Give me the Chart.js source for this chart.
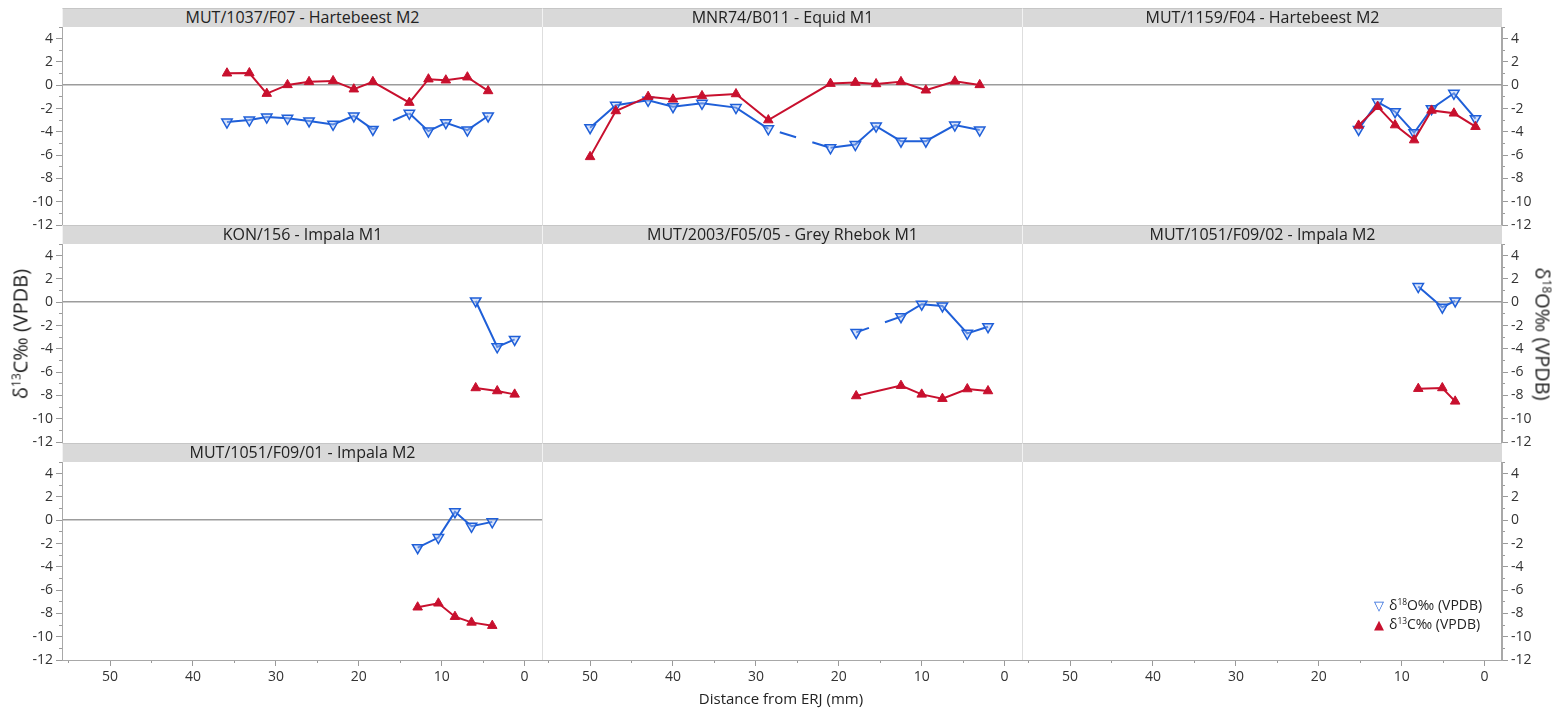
<!DOCTYPE html>
<html>
<head>
<meta charset="utf-8">
<script src="https://cdn.jsdelivr.net/npm/chart.js@4.4.1/dist/chart.umd.min.js"></script>
<style>
  html, body { margin: 0; padding: 0; background: #fff; }
  body { width: 1559px; height: 712px; position: relative; overflow: hidden;
         font-family: 'Open Sans', 'Noto Sans', sans-serif; color: #222; }
  canvas { position: absolute; left: 0; top: 0; }
  .hdr { position: absolute; height: 19px; background: #d9d9d9; border-top: 1px solid #c6c6c6;
         border-left: 1px solid #f2f2f2; box-sizing: border-box; text-align: center;
         font-size: 16px; line-height: 17px; color: #222; white-space: nowrap; }
  .sep { position: absolute; width: 1px; background: #dedede; }
  .axline { position: absolute; width: 1px; background: #a8a8a8; }
  .ytitle { position: absolute; font-size: 20px; white-space: nowrap; color: #222; }
  .ytitle sup, .leg sup { font-size: 0.6em; vertical-align: 0.6em; line-height: 0; }
  .xtitle { position: absolute; font-size: 15px; color: #222; white-space: nowrap; }
  .leg { position: absolute; font-size: 14px; line-height: 18px; color: #222; white-space: nowrap; }
  .mk { display: inline-block; width: 15px; font-family: 'DejaVu Sans', sans-serif; font-size: 13px; }
</style>
</head>
<body>
<script>
// panel titles (row by row)
const titles = [
  "MUT/1037/F07 - Hartebeest M2", "MNR74/B011 - Equid M1", "MUT/1159/F04 - Hartebeest M2",
  "KON/156 - Impala M1", "MUT/2003/F05/05 - Grey Rhebok M1", "MUT/1051/F09/02 - Impala M2",
  "MUT/1051/F09/01 - Impala M2", "", ""
];

// distance from ERJ (mm) and isotope values per tooth; null = missing value
const dist1 = [35.9, 33.2, 31.1, 28.6, 26.0, 23.1, 20.6, 18.3, 16.1, 13.9, 11.6, 9.5, 6.9, 4.4];
const o18_1 = [-3.16, -2.99, -2.73, -2.84, -3.07, -3.36, -2.64, -3.79, null, -2.41, -3.94, -3.22, -3.85, -2.64];
const c13_1 = [1.03, 1.05, -0.72, 0.03, 0.29, 0.37, -0.34, 0.29, null, -1.49, 0.52, 0.43, 0.69, -0.49];

const dist2 = [50.0, 46.9, 43.0, 40.0, 36.5, 32.4, 28.5, 24.7, 21.0, 18.0, 15.5, 12.5, 9.5, 6.0, 3.0];
const o18_2 = [-3.65, -1.72, -1.29, -1.84, -1.55, -1.92, -3.74, null, -5.37, -5.09, -3.51, -4.80, -4.80, -3.42, -3.85];
const c13_2 = [-6.15, -2.21, -0.98, -1.21, -0.92, -0.75, -2.99, null, 0.14, 0.23, 0.11, 0.29, -0.43, 0.34, 0.03];

const dist3 = [15.2, 12.9, 10.8, 8.5, 6.4, 3.7, 1.1];
const o18_3 = [-3.79, -1.44, -2.27, -4.08, -2.01, -0.69, -2.87];
const c13_3 = [-3.45, -1.84, -3.42, -4.71, -2.16, -2.41, -3.56];

const dist4 = [5.9, 3.3, 1.2];
const o18_4 = [0.11, -3.83, -3.19];
const c13_4 = [-7.36, -7.62, -7.91];

const dist5 = [17.9, 15.2, 12.5, 10.0, 7.5, 4.5, 2.0];
const o18_5 = [-2.59, null, -1.24, -0.17, -0.32, -2.67, -2.10];
const c13_5 = [-8.05, null, -7.16, -7.91, -8.28, -7.45, -7.62];

const dist6 = [8.0, 5.1, 3.55];
const o18_6 = [1.35, -0.43, 0.11];
const c13_6 = [-7.42, -7.36, -8.51];

const dist7 = [12.9, 10.4, 8.4, 6.4, 3.9];
const o18_7 = [-2.36, -1.49, 0.72, -0.52, -0.14];
const c13_7 = [-7.47, -7.13, -8.28, -8.77, -9.05];

// tick values
const yMajor = [-12, -10, -8, -6, -4, -2, 0, 2, 4];
const yMinor = [-12, -11, -10, -9, -8, -7, -6, -5, -4, -3, -2, -1, 0, 1, 2, 3, 4, 5];
const xMajor = [0, 10, 20, 30, 40, 50];
const xMinor = [0, 5, 10, 15, 20, 25, 30, 35, 40, 45, 50, 55];

const panels = [
  { x: dist1, o: o18_1, c: c13_1 }, { x: dist2, o: o18_2, c: c13_2 }, { x: dist3, o: o18_3, c: c13_3 },
  { x: dist4, o: o18_4, c: c13_4 }, { x: dist5, o: o18_5, c: c13_5 }, { x: dist6, o: o18_6, c: c13_6 },
  { x: dist7, o: o18_7, c: c13_7 }, null, null
];
const dashOffsets = [12, 22, 0, 0, 3.5, 0, 0, 0, 0];

// layout
const W = 1559, H = 712;
const colLeft = [62, 542, 1022];
const colW = 480;
const rowTop = [27, 244, 462];
const rowBottom = [225, 442, 660];
const yAxisW = 45, xAxisH = 30;
const xMin = -2.1, xMax = 55.8, yMin = -12, yMax = 5;

const blue = '#1f5fd8';
const red = '#c8102e';

Chart.defaults.font.family = "'Open Sans', 'Noto Sans', sans-serif";
Chart.defaults.font.size = 14;
Chart.defaults.color = '#333';

function ticksFrom(arr) {
  return scale => { scale.ticks = arr.map(v => ({ value: v })); };
}

// afterFit runs for hidden scales too, so only size the visible ones
function fixHeight(h) {
  return s => { s.height = s.options.display ? h : 0; };
}
function fixWidth(w) {
  return s => { s.width = s.options.display ? w : 0; };
}

function addDiv(cls, style, html) {
  const d = document.createElement('div');
  d.className = cls;
  Object.assign(d.style, style);
  if (html) d.innerHTML = html;
  document.body.appendChild(d);
  return d;
}

// panel frames and separators
addDiv('sep', { left: '542px', top: '8px', height: '652px' });
addDiv('sep', { left: '1022px', top: '8px', height: '652px' });
addDiv('axline', { left: '62px', top: '8px', height: '652px' });
addDiv('axline', { left: '1501px', top: '8px', height: '652px' });

function makeScales(r, c, hasData) {
  const showY = c !== 1;
  const yPos = c === 2 ? 'right' : 'left';
  const showX = r === 2;
  return {
    x: {
      type: 'linear', reverse: true, min: xMin, max: xMax, display: showX, position: 'bottom', weight: 1,
      afterBuildTicks: ticksFrom(xMajor),
      afterFit: fixHeight(xAxisH),
      grid: { drawOnChartArea: false, tickLength: 6, tickColor: '#9a9a9a' },
      border: { color: '#a8a8a8' },
      ticks: { color: '#333', padding: 3, maxRotation: 0, autoSkip: false, callback: v => String(v) }
    },
    xm: {
      type: 'linear', reverse: true, min: xMin, max: xMax, display: showX, position: 'bottom', weight: 0,
      afterBuildTicks: ticksFrom(xMinor),
      afterFit: fixHeight(0),
      grid: { drawOnChartArea: false, tickLength: 3, tickColor: '#9a9a9a' },
      border: { display: false },
      ticks: { display: false }
    },
    y: {
      type: 'linear', min: yMin, max: yMax, display: showY, position: yPos, weight: 1,
      afterBuildTicks: ticksFrom(yMajor),
      afterFit: fixWidth(yAxisW),
      grid: { drawOnChartArea: false, tickLength: 6, tickColor: '#9a9a9a' },
      border: { color: '#a8a8a8' },
      ticks: { color: '#333', padding: 3, autoSkip: false, callback: v => String(v) }
    },
    ym: {
      type: 'linear', min: yMin, max: yMax, display: showY, position: yPos, weight: 0,
      afterBuildTicks: ticksFrom(yMinor),
      afterFit: fixWidth(0),
      grid: { drawOnChartArea: false, tickLength: 3, tickColor: '#9a9a9a' },
      border: { display: false },
      ticks: { display: false }
    },
    z: {
      type: 'linear', min: yMin, max: yMax, display: hasData, position: 'left', weight: 0,
      afterBuildTicks: ticksFrom([0]),
      afterFit: fixWidth(0),
      grid: { drawTicks: false, color: '#9c9c9c', lineWidth: 1.5 },
      border: { display: false },
      ticks: { display: false }
    }
  };
}

function makePanel(idx) {
  const r = Math.floor(idx / 3), c = idx % 3;
  const left = colLeft[c], right = left + colW;
  const top = rowTop[r], bottom = rowBottom[r];

  addDiv('hdr', { left: left + 'px', top: (top - 19) + 'px', width: colW + 'px' }, titles[idx]);

  const canvas = document.createElement('canvas');
  canvas.width = W; canvas.height = H;
  document.body.appendChild(canvas);

  const p = panels[idx];
  const datasets = [];
  if (p) {
    const off = dashOffsets[idx];
    const gap = ctx => ctx.p0.skip || ctx.p1.skip;
    datasets.push({
      label: 'δ13C‰ (VPDB)',
      data: p.x.map((d, i) => ({ x: d, y: p.c[i] })),
      borderColor: red, backgroundColor: red, borderWidth: 2,
      pointStyle: 'triangle', pointRadius: 5.5, pointHoverRadius: 5.5,
      pointBackgroundColor: red, pointBorderColor: red, pointBorderWidth: 1,
      spanGaps: true, order: 0
    });
    datasets.push({
      label: 'δ18O‰ (VPDB)',
      data: p.x.map((d, i) => ({ x: d, y: p.o[i] })),
      borderColor: blue, backgroundColor: blue, borderWidth: 2,
      pointStyle: 'triangle', pointRotation: 180, pointRadius: 6, pointHoverRadius: 6,
      pointBackgroundColor: 'rgba(170,195,245,0.45)', pointBorderColor: blue, pointBorderWidth: 1.5,
      spanGaps: true, order: 1,
      segment: {
        borderDash: ctx => gap(ctx) ? [17, 17] : undefined,
        borderDashOffset: ctx => gap(ctx) ? off : undefined
      }
    });
  }

  new Chart(canvas.getContext('2d'), {
    type: 'line',
    data: { datasets: datasets },
    options: {
      responsive: false,
      animation: false,
      devicePixelRatio: 1,
      layout: {
        padding: {
          left: c === 0 ? left - yAxisW : left,
          right: c === 2 ? W - right - yAxisW : W - right,
          top: top,
          bottom: r === 2 ? H - bottom - xAxisH : H - bottom
        }
      },
      plugins: { legend: { display: false }, tooltip: { enabled: false } },
      scales: makeScales(r, c, !!p)
    }
  });
}

for (let i = 0; i < 9; i++) makePanel(i);

// axis titles and legend
const lt = addDiv('ytitle', { left: '20px', top: '334px' }, 'δ<sup>13</sup>C‰ (VPDB)');
lt.style.transform = 'translate(-50%, -50%) rotate(-90deg)';
const rt = addDiv('ytitle', { left: '1543px', top: '334px' }, 'δ<sup>18</sup>O‰ (VPDB)');
rt.style.transform = 'translate(-50%, -50%) rotate(90deg)';
const xt = addDiv('xtitle', { left: '781px', top: '698px' }, 'Distance from ERJ (mm)');
xt.style.transform = 'translate(-50%, -50%)';
addDiv('leg', { left: '1374px', top: '596px' },
  '<div><span class="mk" style="color:' + blue + '">▽</span>δ<sup>18</sup>O‰ (VPDB)</div>' +
  '<div><span class="mk" style="color:' + red + '">▲</span>δ<sup>13</sup>C‰ (VPDB)</div>');
</script>
</body>
</html>
